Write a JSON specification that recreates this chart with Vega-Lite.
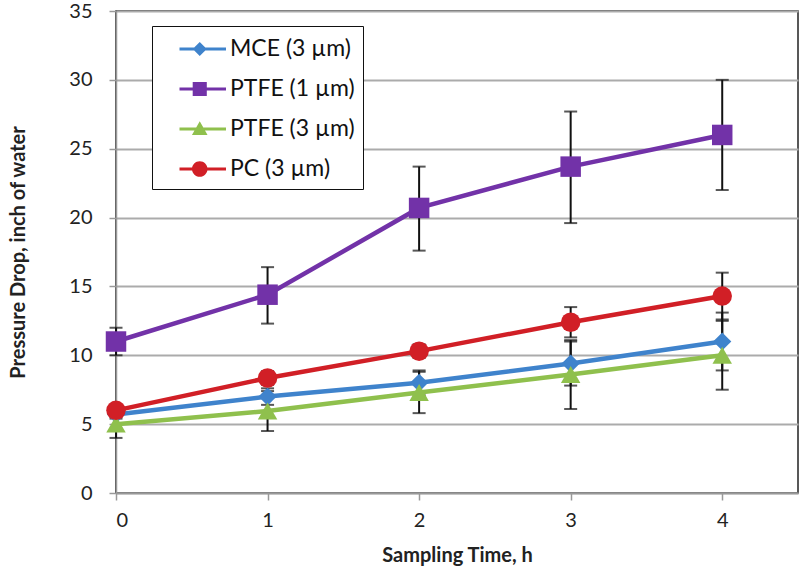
{
  "$schema": "https://vega.github.io/schema/vega-lite/v6.json",
  "width": 682,
  "height": 482,
  "autosize": {"type": "none"},
  "padding": {"left": 116, "top": 11, "right": 2, "bottom": 82},
  "background": "white",
  "config": {
    "font": "Lato",
    "view": {"stroke": "#222", "strokeWidth": 1.5},
    "axis": {
      "labelFont": "Lato", "labelFontSize": 20, "labelColor": "#222",
      "titleFont": "Lato", "titleFontSize": 20, "titleFontWeight": "bold", "titleColor": "#222",
      "domainColor": "#999", "domainWidth": 1.5, "tickColor": "#999", "tickWidth": 1.5, "tickSize": 7,
      "gridColor": "#ababab", "gridWidth": 1.8
    },
    "legend": {
      "orient": "none", "legendX": 36, "legendY": 15,
      "fillColor": "white", "strokeColor": "#111", "padding": 8,
      "labelFont": "Lato", "labelFontSize": 23, "labelColor": "#111",
      "symbolSize": 900, "symbolStrokeWidth": 0, "rowPadding": 13, "labelOffset": 40
    }
  },
  "data": {"values": [
    {"t": 0, "series": "MCE (3 µm)", "y": 5.7, "lo": 5.4, "hi": 6.0},
    {"t": 1, "series": "MCE (3 µm)", "y": 7.0, "lo": 6.4, "hi": 7.6},
    {"t": 2, "series": "MCE (3 µm)", "y": 8.0, "lo": 7.1, "hi": 8.9},
    {"t": 3, "series": "MCE (3 µm)", "y": 9.4, "lo": 7.8, "hi": 11.0},
    {"t": 4, "series": "MCE (3 µm)", "y": 11.0, "lo": 8.9, "hi": 13.1},
    {"t": 0, "series": "PTFE (1 µm)", "y": 11.0, "lo": 10.0, "hi": 12.0},
    {"t": 1, "series": "PTFE (1 µm)", "y": 14.4, "lo": 12.3, "hi": 16.4},
    {"t": 2, "series": "PTFE (1 µm)", "y": 20.7, "lo": 17.6, "hi": 23.7},
    {"t": 3, "series": "PTFE (1 µm)", "y": 23.7, "lo": 19.6, "hi": 27.7},
    {"t": 4, "series": "PTFE (1 µm)", "y": 26.0, "lo": 22.0, "hi": 30.0},
    {"t": 0, "series": "PTFE (3 µm)", "y": 5.0, "lo": 4.0, "hi": 6.0},
    {"t": 1, "series": "PTFE (3 µm)", "y": 5.95, "lo": 4.5, "hi": 7.4},
    {"t": 2, "series": "PTFE (3 µm)", "y": 7.3, "lo": 5.8, "hi": 8.8},
    {"t": 3, "series": "PTFE (3 µm)", "y": 8.6, "lo": 6.1, "hi": 11.1},
    {"t": 4, "series": "PTFE (3 µm)", "y": 10.0, "lo": 7.5, "hi": 12.5},
    {"t": 0, "series": "PC (3 µm)", "y": 6.0, "lo": 5.7, "hi": 6.3},
    {"t": 1, "series": "PC (3 µm)", "y": 8.35, "lo": 7.85, "hi": 8.85},
    {"t": 2, "series": "PC (3 µm)", "y": 10.3, "lo": 9.8, "hi": 10.8},
    {"t": 3, "series": "PC (3 µm)", "y": 12.4, "lo": 11.3, "hi": 13.5},
    {"t": 4, "series": "PC (3 µm)", "y": 14.3, "lo": 12.6, "hi": 16.0}
  ]},
  "encoding": {
    "x": {"field": "t", "type": "quantitative",
      "scale": {"domain": [0, 4.5], "nice": false},
      "axis": {"values": [0, 1, 2, 3, 4], "grid": false, "title": "Sampling Time, h", "labelPadding": 10, "titlePadding": 15}},
    "y": {"field": "y", "type": "quantitative",
      "scale": {"domain": [0, 35], "nice": false},
      "axis": {"values": [0, 5, 10, 15, 20, 25, 30, 35], "grid": true, "title": "Pressure Drop, inch of water", "labelPadding": 17, "titlePadding": 40}}
  },
  "layer": [
    {
      "mark": {"type": "rule", "color": "#111", "strokeWidth": 2},
      "encoding": {"y": {"field": "lo", "type": "quantitative"}, "y2": {"field": "hi"}}
    },
    {
      "mark": {"type": "tick", "color": "#111", "thickness": 2, "size": 13, "orient": "horizontal"},
      "encoding": {"y": {"field": "lo", "type": "quantitative"}}
    },
    {
      "mark": {"type": "tick", "color": "#111", "thickness": 2, "size": 13, "orient": "horizontal"},
      "encoding": {"y": {"field": "hi", "type": "quantitative"}}
    },
    {
      "mark": {"type": "line", "strokeWidth": 4.5},
      "encoding": {
        "color": {"field": "series", "type": "nominal",
          "scale": {"domain": ["MCE (3 µm)", "PTFE (1 µm)", "PTFE (3 µm)", "PC (3 µm)"],
                    "range": ["#3f83cc", "#7232a8", "#8fc04d", "#d11f26"]},
          "legend": {"title": null}}
      }
    },
    {
      "transform": [{"filter": "datum.series === 'MCE (3 µm)'"}],
      "mark": {"type": "point", "filled": true, "opacity": 1, "shape": "diamond", "size": 330},
      "encoding": {"color": {"field": "series", "type": "nominal"}}
    },
    {
      "transform": [{"filter": "datum.series === 'PTFE (1 µm)'"}],
      "mark": {"type": "point", "filled": true, "opacity": 1, "shape": "square", "size": 420},
      "encoding": {"color": {"field": "series", "type": "nominal"}}
    },
    {
      "transform": [{"filter": "datum.series === 'PTFE (3 µm)'"}],
      "mark": {"type": "point", "filled": true, "opacity": 1, "shape": "triangle-up", "size": 380},
      "encoding": {"color": {"field": "series", "type": "nominal"}}
    },
    {
      "transform": [{"filter": "datum.series === 'PC (3 µm)'"}],
      "mark": {"type": "point", "filled": true, "opacity": 1, "shape": "circle", "size": 380},
      "encoding": {"color": {"field": "series", "type": "nominal"}}
    },
    {
      "mark": {"type": "point", "filled": true, "size": 0},
      "encoding": {
        "color": {"field": "series", "type": "nominal", "legend": {"title": null}},
        "shape": {"field": "series", "type": "nominal",
          "scale": {"domain": ["MCE (3 µm)", "PTFE (1 µm)", "PTFE (3 µm)", "PC (3 µm)"],
                    "range": [
                      "M0.3,-0.1H3.4V0.1H0.3Z M1.65,-0.47L2.12,0L1.65,0.47L1.18,0Z",
                      "M0.3,-0.1H3.4V0.1H0.3Z M1.18,-0.47H2.12V0.47H1.18Z",
                      "M0.3,-0.1H3.4V0.1H0.3Z M1.65,-0.52L2.17,0.4H1.13Z",
                      "M0.3,-0.1H3.4V0.1H0.3Z M1.13,0A0.52,0.52 0 1,1 2.17,0A0.52,0.52 0 1,1 1.13,0Z"
                    ]},
          "legend": {"title": null}}
      }
    }
  ]
}
